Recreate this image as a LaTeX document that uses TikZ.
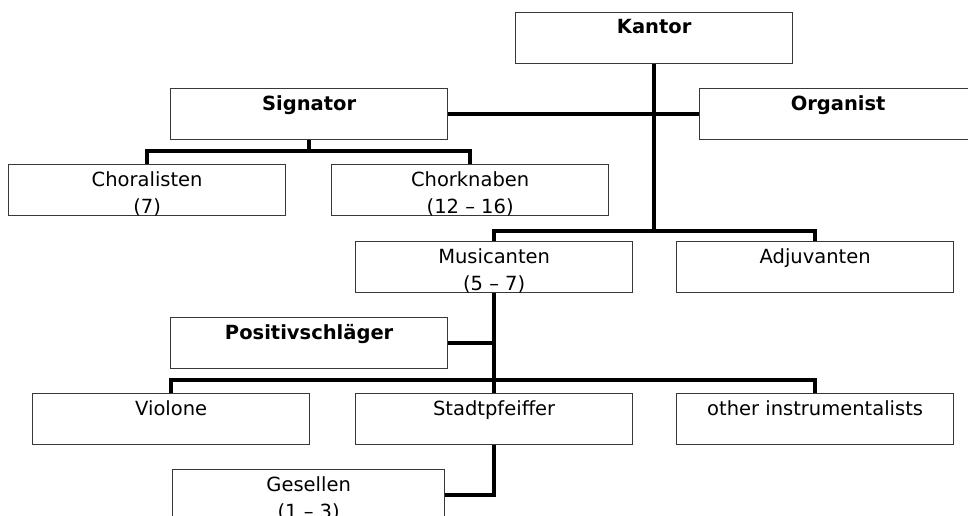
\documentclass[tikz,border=0pt]{standalone}
\usepackage{fontspec}
\setmainfont{DejaVu Sans}
\begin{document}
\begin{tikzpicture}[x=1pt,y=-1pt,
  box/.style={draw=black!78, line width=1.3pt, rectangle, minimum width=277pt, minimum height=51pt, inner sep=0pt, anchor=north west},
  lab/.style={anchor=north, inner sep=0pt, align=center, font=\fontsize{19.5}{27}\selectfont},
  blab/.style={lab, font=\fontsize{19.5}{27}\selectfont\bfseries},
  conn/.style={draw=black, line width=3.8pt, line join=miter}]
\useasboundingbox (0,0) rectangle (968,516);
\clip (0,0) rectangle (968,516);
% boxes
\node[box] (kantor) at (515,12) {};
\node[box] (signator) at (170,88) {};
\node[box] (organist) at (699,88) {};
\node[box] (choralisten) at (8,164) {};
\node[box] (chorknaben) at (331,164) {};
\node[box] (musicanten) at (355,241) {};
\node[box] (adjuvanten) at (676,241) {};
\node[box] (positiv) at (170,317) {};
\node[box] (violone) at (32,393) {};
\node[box] (stadt) at (355,393) {};
\node[box] (other) at (676,393) {};
\node[box, minimum width=272pt] (gesellen) at (172,469) {};
% texts
\node[blab] (kantorT) at ([yshift=-7]kantor.north) {Kantor};
\node[blab] (signatorT) at ([yshift=-7]signator.north) {Signator};
\node[blab] (organistT) at ([yshift=-7]organist.north) {Organist};
\node[lab] (choralistenT) at ([yshift=-7]choralisten.north) {Choralisten\\(7)};
\node[lab] (chorknabenT) at ([yshift=-7]chorknaben.north) {Chorknaben\\(12 – 16)};
\node[lab] (musicantenT) at ([yshift=-7]musicanten.north) {Musicanten\\(5 – 7)};
\node[lab] (adjuvantenT) at ([yshift=-7]adjuvanten.north) {Adjuvanten};
\node[blab] (positivT) at ([yshift=-7]positiv.north) {Positivschläger};
\node[lab] (violoneT) at ([yshift=-7]violone.north) {Violone};
\node[lab] (stadtT) at ([yshift=-7]stadt.north) {Stadtpfeiffer};
\node[lab] (otherT) at ([yshift=-7]other.north) {other instrumentalists};
\node[lab] (gesellenT) at ([yshift=-7]gesellen.north) {Gesellen\\(1 – 3)};
% connectors
\coordinate (j1) at (kantor.south |- 0,231);
\coordinate (s1) at ([yshift=-11]signator.south);
\coordinate (b1) at (musicanten.south |- 0,380);
\draw[conn] (signator.east) -- (organist.west);
\draw[conn] (kantor.south) -- (j1);
\draw[conn] (musicanten.north) |- (j1) -| (adjuvanten.north);
\draw[conn] (signator.south) -- (s1);
\draw[conn] (choralisten.north) |- (s1) -| (chorknaben.north);
\draw[conn] (musicanten.south) -- (stadt.north);
\draw[conn] (positiv.east) -- (positiv.east -| musicanten.south);
\draw[conn] (violone.north) |- (b1) -| (other.north);
\draw[conn] (stadt.south) |- (gesellen.east);
\end{tikzpicture}
\end{document}
